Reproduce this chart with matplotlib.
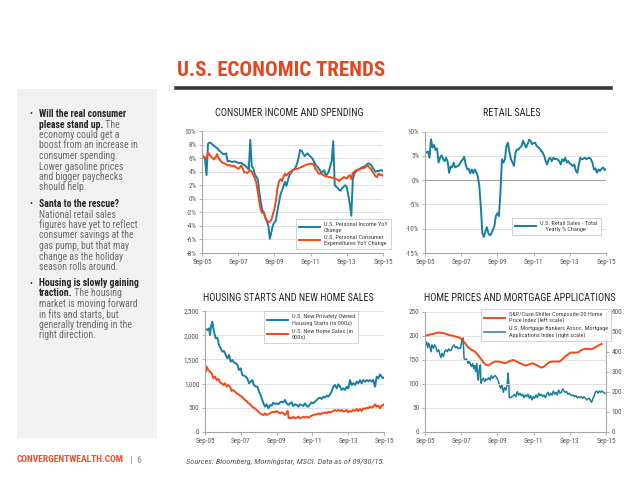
import matplotlib
matplotlib.use("Agg")
import matplotlib.pyplot as plt
from matplotlib.lines import Line2D

plt.rcParams['font.family'] = ['Roboto Condensed', 'Liberation Sans Narrow', 'DejaVu Sans']

TEAL = '#17809e'
RED = '#fa4616'
GRID = '#dcdcdc'
AXIS = '#a6a6a6'
TICK_TXT = '#595959'

# x positions are months since Sep-05
x_ticks = [0, 24, 48, 72, 96, 120]
x_labels = ['Sep-05', 'Sep-07', 'Sep-09', 'Sep-11', 'Sep-13', 'Sep-15']

# --- consumer income and spending (YoY %) ---
income_m = list(range(0, 121))
income_v = [6.0, 6.2, 5.9, 3.5, 8.1, 8.3, 8.2, 8.0, 7.8, 7.6, 7.5, 7.2, 7.0, 6.8, 6.6, 6.6, 6.7, 5.5,
            5.6, 5.5, 5.4, 5.5, 5.5, 5.4, 5.3, 5.3, 5.3, 5.1, 5.0, 4.8, 4.6, 4.3, 8.7, 4.8, 4.5, 3.6,
            3.2, 2.9, 1.0, -0.5, -1.7, -2.0, -2.8, -3.3, -4.0, -5.9, -4.9, -3.9, -3.5, -3.2, -1.8, -0.6,
            0.6, 1.2, 1.8, 2.5, 1.9, 2.8, 3.5, 3.8, 4.2, 4.3, 4.6, 5.2, 6.0, 7.2, 7.1, 6.7, 6.3, 6.5,
            6.7, 6.4, 6.2, 6.0, 5.6, 5.2, 4.8, 4.6, 4.3, 3.9, 4.0, 4.2, 3.5, 3.6, 4.0, 4.8, 5.6, 8.5,
            2.0, 1.8, 1.6, 1.3, 1.2, 1.6, 1.8, 2.0, 1.7, 0.5, -0.8, -2.5, 2.9, 3.7, 4.0, 4.3, 4.3,
            4.5, 4.6, 4.7, 4.8, 5.0, 5.2, 5.2, 5.0, 4.7, 4.3, 4.0, 4.1, 4.1, 4.2, 4.2, 4.1]
spend_m = list(range(0, 121))
spend_v = [6.5, 6.2, 6.1, 5.9, 6.8, 6.5, 6.2, 6.0, 5.8, 6.1, 6.6, 6.0, 5.7, 5.4, 5.3, 5.2, 5.1, 4.9,
           5.0, 4.9, 4.8, 4.9, 4.7, 4.6, 4.4, 4.6, 4.9, 4.5, 3.9, 3.9, 3.8, 4.0, 4.2, 4.0, 3.5, 3.0,
           2.4, 1.0, -0.5, -1.7, -2.1, -2.0, -2.8, -3.2, -3.4, -3.4, -3.1, -2.3, -1.5, -0.3, 1.5, 2.5,
           2.9, 2.6, 3.2, 3.7, 3.4, 3.7, 3.9, 4.0, 4.2, 4.3, 4.4, 4.4, 4.5, 4.6, 4.7, 4.8, 4.9, 5.0,
           5.1, 5.1, 5.2, 5.1, 5.2, 4.4, 4.3, 3.8, 3.7, 3.7, 3.6, 3.4, 3.3, 3.3, 3.2, 3.2, 3.1, 3.1,
           3.0, 2.9, 2.8, 2.6, 2.9, 3.0, 3.2, 3.1, 3.0, 3.3, 3.5, 2.9, 3.8, 4.0, 4.2, 4.2, 4.3, 4.4,
           4.5, 4.5, 4.6, 4.8, 4.9, 4.6, 4.4, 4.0, 3.7, 3.3, 3.2, 3.7, 3.5, 3.6, 3.4]

# --- retail sales (YoY %) ---
retail_m = list(range(0, 121))
retail_v = [5.8, 5.7, 5.9, 4.6, 8.4, 6.7, 7.2, 6.2, 6.5, 3.6, 4.6, 5.1, 4.3, 3.9, 4.6, 3.8, 1.5, 2.8,
            2.6, 3.6, 2.6, 2.8, 2.9, 3.3, 3.9, 4.2, 4.8, 3.2, 2.2, 2.3, 1.4, 2.2, 1.4, 2.2, 1.6, 0.8,
            -1.2, -5.4, -10.9, -11.7, -10.6, -9.7, -10.9, -11.4, -11.0, -10.2, -9.5, -7.4, -6.8, -7.4,
            -2.6, 4.3, 3.6, 4.3, 7.0, 7.7, 5.7, 4.3, 3.6, 2.9, 5.7, 6.3, 6.3, 6.7, 7.0, 8.1, 7.4, 6.7,
            7.4, 8.3, 8.1, 7.4, 7.6, 7.7, 7.0, 6.8, 6.5, 6.0, 5.7, 5.0, 3.9, 3.2, 4.3, 4.6, 3.9, 4.6,
            4.3, 4.4, 4.2, 3.9, 3.2, 4.3, 3.9, 4.6, 3.6, 3.9, 3.4, 3.2, 2.9, 3.2, 1.9, 1.5, 3.2, 4.6,
            4.3, 4.4, 4.6, 4.3, 4.5, 4.6, 4.3, 3.6, 2.2, 2.4, 1.5, 2.2, 1.9, 2.3, 2.6, 2.1, 2.2]

# --- housing starts and new home sales (000s) ---
starts_m = [0.4, 1.6, 2.7, 3.4, 4.0, 4.9, 5.6, 6.3, 7.2, 8.3, 9.4, 10.5, 11.6, 12.7, 13.9, 15.0,
            16.1, 17.2, 18.3, 19.4, 20.6, 21.7, 22.8, 23.9, 25.0, 26.1, 27.3, 28.4, 29.5, 30.6, 31.7,
            32.8, 34.0, 35.1, 36.2, 37.3, 38.4, 39.6, 40.4, 41.3, 42.5, 43.6, 44.7, 45.8, 46.9, 48.0,
            49.2, 50.3, 51.4, 52.5, 53.6, 54.7, 55.9, 57.0, 58.1, 59.2, 60.3, 61.5, 62.6, 63.7, 64.8,
            65.9, 67.0, 68.2, 69.3, 70.4, 71.5, 72.6, 73.7, 74.9, 76.0, 77.1, 78.2, 79.3, 80.4, 81.6,
            82.7, 83.8, 84.9, 86.0, 87.2, 88.3, 89.4, 90.5, 91.6, 92.7, 93.9, 95.0, 96.1, 97.2, 98.3,
            99.4, 100.6, 101.7, 102.8, 103.9, 105.0, 106.1, 107.3, 108.4, 109.5, 110.6, 111.7, 112.8,
            114.0, 115.1, 116.2, 117.3, 118.4, 119.6, 120.0]
starts_v = [2128, 2107, 2142, 2004, 2176, 2280, 2142, 2039, 1935, 1949, 1797, 1729, 1660, 1674, 1591,
            1522, 1591, 1453, 1488, 1439, 1419, 1384, 1281, 1315, 1178, 1164, 1143, 1109, 1006, 1040,
            1074, 971, 937, 937, 833, 764, 661, 558, 523, 572, 489, 558, 544, 606, 579, 592, 572, 613,
            627, 613, 661, 592, 558, 592, 613, 537, 572, 558, 523, 572, 558, 537, 592, 537, 523, 572,
            613, 592, 627, 661, 696, 709, 682, 730, 709, 751, 730, 778, 833, 937, 971, 902, 985, 937,
            868, 902, 868, 937, 902, 1074, 971, 1006, 971, 1040, 1006, 1074, 1006, 1074, 1040, 1074,
            1054, 1074, 1040, 1074, 937, 1143, 1109, 1191, 1143, 1109, 1123]
sales_m = [0.4, 1.1, 2.2, 3.4, 4.5, 5.6, 6.7, 7.8, 8.9, 10.1, 11.2, 12.3, 13.4, 14.5, 15.6, 16.8,
           17.9, 19.0, 20.1, 21.2, 22.3, 23.5, 24.6, 25.7, 26.8, 27.9, 29.1, 30.2, 31.3, 32.4, 33.5,
           34.6, 35.8, 36.9, 38.0, 39.1, 40.2, 41.3, 42.5, 43.6, 44.7, 45.8, 46.9, 48.0, 49.2, 50.3,
           51.4, 52.5, 53.6, 54.7, 55.4, 56.1, 57.0, 58.1, 59.2, 60.3, 61.5, 62.6, 63.7, 64.8, 65.9,
           67.0, 68.2, 69.3, 70.4, 71.5, 72.6, 74.9, 76.0, 77.1, 78.2, 79.3, 80.4, 81.6, 82.7, 83.8,
           84.9, 86.0, 87.2, 88.3, 89.4, 90.5, 91.6, 92.7, 93.9, 95.0, 96.1, 97.2, 98.3, 99.4, 100.6,
           101.7, 102.8, 103.9, 105.0, 106.1, 107.3, 108.4, 109.5, 110.6, 111.7, 112.8, 114.0, 115.1,
           116.2, 117.3, 118.4, 119.6, 120.0]
sales_v = [1247, 1350, 1281, 1247, 1212, 1109, 1143, 1074, 1095, 1026, 1006, 971, 1006, 937, 971, 937,
           847, 868, 833, 799, 778, 751, 730, 696, 661, 640, 592, 572, 537, 503, 489, 455, 420, 386,
           365, 351, 386, 351, 365, 386, 406, 420, 406, 434, 406, 386, 406, 386, 351, 386, 434, 282,
           296, 282, 317, 282, 296, 317, 282, 296, 317, 296, 317, 296, 317, 337, 351, 365, 386, 365,
           386, 386, 406, 386, 420, 406, 420, 434, 455, 434, 455, 434, 455, 420, 434, 455, 406, 434,
           420, 455, 434, 475, 434, 475, 434, 489, 475, 503, 489, 523, 503, 523, 572, 523, 544, 489,
           544, 558, 572]

# --- home prices (left) and mortgage applications (right) ---
cs_m = [0, 2.2, 5.5, 8.8, 11.0, 13.3, 15.5, 18.8, 22.1, 24.3, 26.5, 28.7, 30.9, 33.1, 35.4, 37.6,
        39.8, 42.0, 44.2, 46.4, 48.6, 50.8, 53.0, 54.6, 56.4, 58.6, 60.8, 63.0, 65.2, 67.0, 69.2, 71.4,
        73.6, 75.8, 77.3, 78.9, 80.7, 82.4, 84.6, 86.9, 89.1, 90.6, 92.8, 95.0, 96.6, 99.4, 101.7,
        103.9, 106.1, 108.3, 110.5, 112.7, 114.9, 117.1]
cs_v = [199.0, 201.5, 203.6, 206.4, 205.7, 204.3, 201.5, 199.4, 196.5, 193.2, 184.2, 175.2, 170.4,
        166.9, 158.6, 149.6, 140.6, 137.8, 142.7, 146.1, 146.1, 144.7, 142.7, 144.7, 147.5, 149.6,
        146.1, 142.7, 139.2, 137.8, 140.6, 142.7, 139.2, 135.7, 133.7, 135.7, 140.6, 144.7, 146.1,
        146.1, 146.1, 149.6, 156.5, 161.4, 164.8, 164.8, 165.5, 170.4, 172.4, 172.4, 171.7, 175.2,
        179.4, 182.8]
mba_m = [0, 0.4, 1.1, 1.8, 2.4, 3.3, 4.0, 4.6, 5.5, 6.4, 7.3, 8.2, 9.1, 9.9, 10.6, 11.3, 12.2, 13.0,
         13.9, 14.8, 15.7, 16.6, 17.5, 18.3, 19.2, 20.1, 21.0, 21.9, 22.8, 23.6, 24.5, 25.2, 25.9,
         26.7, 27.6, 28.5, 29.4, 30.3, 30.9, 31.6, 32.3, 32.9, 33.6, 34.3, 34.9, 35.4, 36.0, 36.7,
         37.1, 37.8, 38.7, 39.6, 40.4, 41.3, 42.2, 43.1, 44.0, 44.9, 45.7, 46.6, 47.5, 48.4, 49.3,
         50.2, 51.0, 51.9, 52.8, 53.7, 54.6, 55.0, 55.5, 55.9, 56.8, 57.7, 58.6, 59.4, 60.3, 61.2,
         62.1, 63.0, 63.9, 64.8, 65.6, 66.5, 67.4, 68.3, 69.2, 70.1, 70.9, 71.8, 72.7, 73.6, 74.5,
         75.4, 76.2, 77.1, 78.0, 78.9, 79.8, 80.7, 81.5, 82.4, 83.3, 84.2, 85.1, 86.0, 86.9, 87.7,
         88.6, 89.5, 90.4, 91.3, 92.2, 93.0, 93.9, 94.8, 95.7, 96.6, 97.5, 98.3, 99.2, 100.1, 101.0,
         101.9, 102.8, 103.6, 104.5, 105.4, 106.3, 107.2, 108.1, 109.0, 109.8, 110.5, 111.2, 112.0,
         112.9, 113.8, 114.7, 115.6, 116.5, 117.3, 118.2, 119.3]
mba_v = [479, 434, 447, 420, 442, 425, 400, 434, 417, 434, 420, 400, 409, 384, 371, 392, 376, 400,
         409, 400, 414, 404, 409, 425, 434, 420, 425, 414, 420, 417, 459, 468, 367, 359, 364, 342,
         351, 334, 326, 342, 317, 331, 301, 342, 276, 258, 317, 334, 243, 259, 268, 251, 264, 259,
         271, 259, 281, 268, 276, 281, 271, 259, 234, 218, 234, 198, 221, 209, 243, 293, 251, 171,
         171, 176, 181, 188, 176, 201, 184, 193, 181, 188, 171, 184, 176, 188, 168, 181, 160, 176,
         168, 184, 171, 193, 181, 188, 176, 184, 171, 188, 198, 181, 193, 184, 204, 188, 198, 184,
         209, 193, 198, 214, 204, 198, 201, 188, 193, 184, 181, 184, 176, 181, 171, 176, 171, 176,
         168, 175, 168, 160, 165, 168, 155, 148, 165, 176, 198, 204, 193, 204, 198, 204, 198, 193]

TICK_FS = 5.2
TITLE_FS = 7.4
LEG_FS = 4.5
BODY_FS = 7.0


def px_axes(fig, left, top, right, bottom):
    # axes placed by pixel edges on a 640x480 canvas
    return fig.add_axes([left / 640, 1 - bottom / 480, (right - left) / 640, (bottom - top) / 480])


def style_axes(ax, yticks, ylabels, ylim):
    ax.set_xlim(0, 120)
    ax.set_ylim(*ylim)
    ax.set_xticks(x_ticks)
    ax.set_xticklabels(x_labels)
    ax.set_yticks(yticks)
    ax.set_yticklabels(ylabels)
    for s in ['top', 'right']:
        ax.spines[s].set_visible(False)
    for s in ['left', 'bottom']:
        ax.spines[s].set_color(AXIS)
        ax.spines[s].set_linewidth(0.8)
    ax.tick_params(axis='both', labelsize=TICK_FS, colors=AXIS, labelcolor=TICK_TXT, length=2, width=0.6, pad=2)
    ax.yaxis.grid(True, color=GRID, linewidth=0.6)
    ax.set_axisbelow(True)


def legend_box(ax, handles, labels, x, y):
    leg = ax.legend(handles, labels, loc='upper left', bbox_to_anchor=(x / 640, 1 - y / 480),
                    bbox_transform=ax.figure.transFigure, fontsize=LEG_FS, frameon=True, fancybox=False,
                    handlelength=3.4, handletextpad=0.6, borderpad=0.5, labelspacing=0.35,
                    borderaxespad=0)
    leg.get_frame().set_edgecolor('#bfbfbf')
    leg.get_frame().set_linewidth(0.6)
    for t in leg.get_texts():
        t.set_color('#404040')
    return leg


def text_after(fig, anchor, s, **kw):
    # put a text right after another one on the same line
    r = fig.canvas.get_renderer()
    bb = anchor.get_window_extent(renderer=r)
    x = bb.x1 / fig.bbox.width
    y = anchor.get_position()[1]
    return fig.text(x, y, s, va='center', ha='left', **kw)


fig = plt.figure(figsize=(6.4, 4.8), dpi=100)

# header
fig.text(177 / 640, 1 - 71 / 480, 'U.S. ECONOMIC TRENDS', fontsize=15, fontweight='bold',
         color='#e8441d', ha='left', va='center')
fig.add_artist(Line2D([176 / 640, 611 / 640], [1 - 87.5 / 480] * 2, color='#3a3a3a', linewidth=2.6))

# left commentary panel
fig.patches.append(plt.Rectangle((17 / 640, 1 - 438 / 480), 140 / 640, 349 / 480,
                                 transform=fig.transFigure, facecolor='#f1f1f1', edgecolor='none'))

bullets = [
    (114, ['Will the real consumer', 'please stand up.'],
     [' The', 'economy could get a', 'boost from an increase in', 'consumer spending.',
      'Lower gasoline prices', 'and bigger paychecks', 'should help.']),
    (204, ['Santa to the rescue?'],
     ['National retail sales', 'figures have yet to reflect', 'consumer savings at the',
      'gas pump, but that may', 'change as the holiday', 'season rolls around.']),
    (283, ['Housing is slowly gaining', 'traction.'],
     [' The housing', 'market is moving forward', 'in fits and starts, but',
      'generally trending in the', 'right direction.']),
]
line_h = 10.5
for y0, bold_lines, plain_lines in bullets:
    fig.text(29 / 640, 1 - y0 / 480, '\u2022', fontsize=6.5, color='#333333', va='center', ha='left')
    y = y0
    last = None
    for bl in bold_lines:
        last = fig.text(39 / 640, 1 - y / 480, bl, fontsize=BODY_FS, fontweight='bold', color='#262626',
                        va='center', ha='left')
        y += line_h
    rest = plain_lines
    if plain_lines[0].startswith(' '):
        text_after(fig, last, plain_lines[0], fontsize=BODY_FS, color='#6b6b6b')
        rest = plain_lines[1:]
    for pl in rest:
        fig.text(39 / 640, 1 - y / 480, pl, fontsize=BODY_FS, color='#6b6b6b', va='center', ha='left')
        y += line_h

# footer
foot = fig.text(17 / 640, 1 - 460 / 480, 'CONVERGENTWEALTH.COM', fontsize=6.8, fontweight='bold',
                color='#f04e23', va='center', ha='left')
text_after(fig, foot, '   |  6', fontsize=6.8, color='#8c8c8c')
fig.text(186 / 640, 1 - 462 / 480, 'Sources: Bloomberg, Morningstar, MSCI. Data as of 09/30/15.',
         fontsize=6.0, style='italic', color='#595959', va='center', ha='left')

# chart 1: consumer income and spending
ax1 = px_axes(fig, 202, 131, 383, 253)
l1, = ax1.plot(income_m, income_v, color=TEAL, linewidth=1.4)
l2, = ax1.plot(spend_m, spend_v, color=RED, linewidth=1.4)
style_axes(ax1, [10, 8, 6, 4, 2, 0, -2, -4, -6, -8],
           ['10%', '8%', '6%', '4%', '2%', '0%', '-2%', '-4%', '-6%', '-8%'], (-8, 10))
fig.text(289 / 640, 1 - 113 / 480, 'CONSUMER INCOME AND SPENDING', fontsize=TITLE_FS, color='#262626',
         ha='center', va='center')
legend_box(ax1, [l1, l2], ['U.S. Personal Income YoY\nChange', 'U.S. Personal Consumer\nExpenditures YoY Change'],
           296, 219)

# chart 2: retail sales
ax2 = px_axes(fig, 425, 131.5, 606, 253)
l3, = ax2.plot(retail_m, retail_v, color=TEAL, linewidth=1.4)
style_axes(ax2, [10, 5, 0, -5, -10, -15], ['10%', '5%', '0%', '-5%', '-10%', '-15%'], (-15, 10))
ax2.axhline(0, color=AXIS, linewidth=0.8, zorder=1)
fig.text(512 / 640, 1 - 113 / 480, 'RETAIL SALES', fontsize=TITLE_FS, color='#262626', ha='center', va='center')
legend_box(ax2, [l3], ['U.S. Retail Sales - Total\n    Yearly % Change'], 512, 218)

# chart 3: housing starts and new home sales
ax3 = px_axes(fig, 205, 311, 384, 432)
l4, = ax3.plot(starts_m, starts_v, color=TEAL, linewidth=1.4)
l5, = ax3.plot(sales_m, sales_v, color=RED, linewidth=1.4)
style_axes(ax3, [0, 500, 1000, 1500, 2000, 2500], ['0', '500', '1,000', '1,500', '2,000', '2,500'], (0, 2500))
fig.text(288 / 640, 1 - 298 / 480, 'HOUSING STARTS AND NEW HOME SALES', fontsize=TITLE_FS, color='#262626',
         ha='center', va='center')
legend_box(ax3, [l4, l5], ['U.S. New Privately Owned\nHousing Starts (in 000s)', 'U.S. New Home Sales (in\n000s)'],
           264, 311)

# chart 4: home prices and mortgage applications
ax4 = px_axes(fig, 425, 311.5, 606, 432)
l6, = ax4.plot(cs_m, cs_v, color=RED, linewidth=1.4)
style_axes(ax4, [0, 50, 100, 150, 200, 250], ['0', '50', '100', '150', '200', '250'], (0, 250))
ax4r = ax4.twinx()
l7, = ax4r.plot(mba_m, mba_v, color=TEAL, linewidth=1.1)
ax4r.set_ylim(0, 600)
ax4r.set_yticks([0, 100, 200, 300, 400, 500, 600])
for s in ['top', 'left', 'bottom']:
    ax4r.spines[s].set_visible(False)
ax4r.spines['right'].set_color(AXIS)
ax4r.spines['right'].set_linewidth(0.8)
ax4r.tick_params(axis='y', labelsize=TICK_FS, colors=AXIS, labelcolor=TICK_TXT, length=2, width=0.6, pad=2)
ax4.set_zorder(ax4r.get_zorder() + 1)
ax4.patch.set_visible(False)
fig.text(520 / 640, 1 - 298 / 480, 'HOME PRICES AND MORTGAGE APPLICATIONS', fontsize=TITLE_FS, color='#262626',
         ha='center', va='center')
legend_box(ax4, [l6, l7], ['S&P/Case-Shiller Composite-20 Home\nPrice Index (left scale)',
                           'U.S. Mortgage Bankers Assoc. Mortgage\nApplications Index (right scale)'], 481, 309)

fig.savefig('out.png', dpi=100)
